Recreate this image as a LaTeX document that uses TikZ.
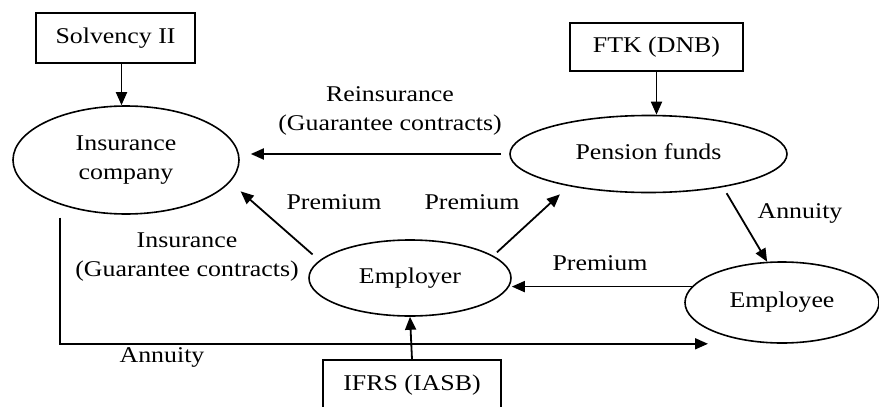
\documentclass[tikz,border=0pt]{standalone}
\usepackage{fontspec}
\setmainfont{Liberation Serif}[FakeStretch=1.15]
\usetikzlibrary{shapes.geometric,arrows.meta}
\begin{document}
\begin{tikzpicture}[x=1pt,y=-1pt,
  every node/.style={font=\fontsize{22.5}{29}\selectfont, inner sep=0pt},
  entity/.style={ellipse, draw, line width=1.6pt},
  rule/.style={rectangle, draw, line width=1.6pt},
  lbl/.style={align=center},
  arr/.style={line width=1.8pt, -{Triangle[length=13pt,width=11pt]}}]
\useasboundingbox (0,0) rectangle (879,407);
\clip (0,0) rectangle (879,407);

% regulators
\node[rule, minimum width=159pt, minimum height=50pt] (solv) at (115.5,38) {Solvency II};
\node[rule, minimum width=173pt, minimum height=48pt] (ftk) at (656.5,47) {FTK (DNB)};
\node[rule, minimum width=178pt, minimum height=56pt] (ifrs) at (412,388) {};
\node at (412,385) {IFRS (IASB)};

% parties
\node[entity, minimum width=226pt, minimum height=108pt, align=center] (ins) at (126,160) {Insurance\\company};
\node[entity, minimum width=277pt, minimum height=77pt] (pen) at (648.5,154) {\raisebox{5pt}{Pension funds}};
\node[entity, minimum width=202pt, minimum height=76pt] (emp) at (410,278) {\raisebox{3pt}{Employer}};
\node[entity, minimum width=194pt, minimum height=81pt] (empl) at (782,302.5) {\raisebox{5pt}{Employee}};

% supervision
\draw[arr] ([xshift=6pt]solv.south) -- ([xshift=6pt]solv.south |- ins.north);
\draw[arr] (ftk.south) -- (ftk.south |- pen.north);
\draw[arr] (ifrs.north) -- (emp.south);

% flows
\draw[arr, shorten <=8pt, shorten >=11pt] (pen.west) -- (pen.west -| ins.east);
\draw[arr, shorten <=9pt, shorten >=14pt] (emp.169) -- (ins.-12);
\draw[arr, shorten <=5pt, shorten >=12pt] (emp.15) -- (pen.-158.6);
\draw[arr, shorten <=7pt] (pen.-24.3) -- (empl.110.6);
\draw[arr] (empl.170) -- (empl.170 -| emp.east);
\draw[arr, shorten <=13pt, shorten >=74pt] (ins.-146) |- (empl.south);

% labels
\node[lbl] (lre) at (390,111) {Reinsurance\\(Guarantee contracts)};
\node[lbl] (lin) at (187,257.5) {Insurance\\(Guarantee contracts)};
\node (lp1) at (334,202) {Premium};
\node (lp2) at (472,202) {Premium};
\node (lp3) at (600,263) {Premium};
\node (la1) at (800,213) {Annuity};
\node (la2) at (162,357) {Annuity};
\end{tikzpicture}
\end{document}
